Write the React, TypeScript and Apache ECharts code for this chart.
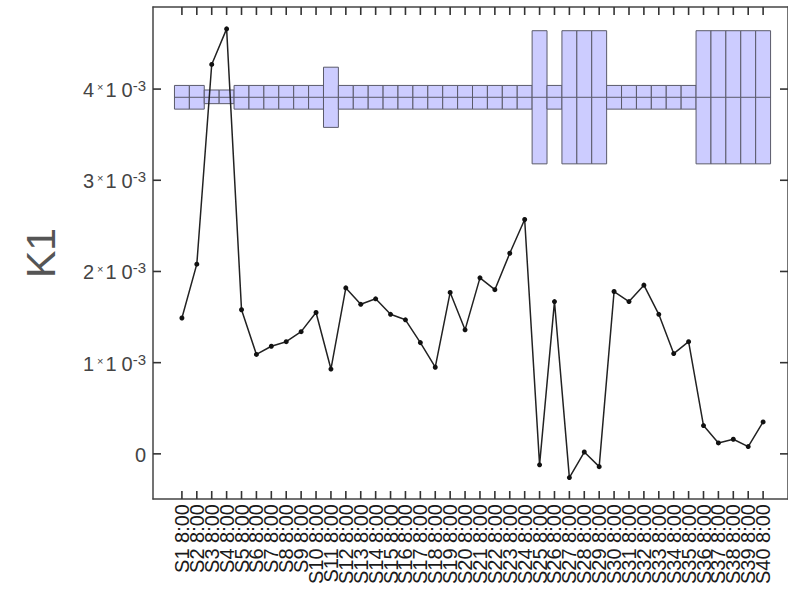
import React, { useEffect, useRef } from "react";
import * as echarts from "echarts";

// Sample labels (x axis)
const categories = [
  "S1 8:00", "S2 8:00", "S3 8:00", "S4 8:00", "S5 8:00", "S6 8:00", "S7 8:00", "S8 8:00",
  "S9 8:00", "S10 8:00", "S11 8:00", "S12 8:00", "S13 8:00", "S14 8:00", "S15 8:00", "S16 8:00",
  "S17 8:00", "S18 8:00", "S19 8:00", "S20 8:00", "S21 8:00", "S22 8:00", "S23 8:00", "S24 8:00",
  "S25 8:00", "S26 8:00", "S27 8:00", "S28 8:00", "S29 8:00", "S30 8:00", "S31 8:00", "S32 8:00",
  "S33 8:00", "S34 8:00", "S35 8:00", "S36 8:00", "S37 8:00", "S38 8:00", "S39 8:00", "S40 8:00",
];

// K1 values, in units of 1e-3
const k1Values = [
  1.49, 2.08, 4.27, 4.66, 1.58, 1.09, 1.18, 1.23, 1.34, 1.55,
  0.93, 1.82, 1.64, 1.70, 1.53, 1.47, 1.22, 0.95, 1.77, 1.36,
  1.93, 1.80, 2.20, 2.57, -0.12, 1.67, -0.26, 0.02, -0.14, 1.78,
  1.67, 1.85, 1.53, 1.10, 1.23, 0.31, 0.12, 0.16, 0.08, 0.35,
];

// Box glyphs along the top (units of 1e-3)
const boxLow = [
  3.78, 3.78, 3.84, 3.84, 3.78, 3.78, 3.78, 3.78, 3.78, 3.78,
  3.58, 3.78, 3.78, 3.78, 3.78, 3.78, 3.78, 3.78, 3.78, 3.78,
  3.78, 3.78, 3.78, 3.78, 3.18, 3.78, 3.18, 3.18, 3.18, 3.78,
  3.78, 3.78, 3.78, 3.78, 3.78, 3.18, 3.18, 3.18, 3.18, 3.18,
];
const boxHigh = [
  4.04, 4.04, 3.99, 3.99, 4.04, 4.04, 4.04, 4.04, 4.04, 4.04,
  4.24, 4.04, 4.04, 4.04, 4.04, 4.04, 4.04, 4.04, 4.04, 4.04,
  4.04, 4.04, 4.04, 4.04, 4.64, 4.04, 4.64, 4.64, 4.64, 4.04,
  4.04, 4.04, 4.04, 4.04, 4.04, 4.64, 4.64, 4.64, 4.64, 4.64,
];
const boxMid = 3.91;

// y ticks, units of 1e-3
const yTicks = [0, 1, 2, 3, 4];

// axis extents
const X_MIN = -1.94;
const X_MAX = 40.67;
const Y_MIN = -0.495;
const Y_MAX = 4.9;

const AXIS_COLOR = "#444444";
const FONT = "Liberation Sans, Arial, sans-serif";
const TICK_LEN = 8;
const TICK_W = 1.6;

export default function App() {
  const ref = useRef<HTMLDivElement>(null);

  useEffect(() => {
    if (!ref.current) return;
    const chart = echarts.init(ref.current, null, { renderer: "svg" });

    const lineData = k1Values.map((v, i) => [i, v]);
    const boxData = boxLow.map((lo, i) => [i, lo, boxHigh[i], boxMid]);
    const xTickData = categories.map((_, i) => [i, 0]);

    const xCommon = {
      type: "value",
      min: X_MIN,
      max: X_MAX,
      splitLine: { show: false },
      axisLine: { show: true, onZero: false, lineStyle: { color: AXIS_COLOR, width: 1.5 } },
      axisTick: { show: false },
      axisLabel: { show: false },
    };

    const yCommon = {
      type: "value",
      min: Y_MIN,
      max: Y_MAX,
      splitLine: { show: false },
      axisLine: { show: true, onZero: false, lineStyle: { color: AXIS_COLOR, width: 1.5 } },
      axisTick: { show: false },
    };

    chart.setOption({
      animation: false,
      backgroundColor: "#ffffff",
      grid: { left: 153, right: -2, top: 7, bottom: 90, containLabel: false },
      xAxis: [
        { ...xCommon, position: "bottom" },
        { ...xCommon, position: "top" },
      ],
      yAxis: [
        {
          ...yCommon,
          position: "left",
          name: "K1",
          nameLocation: "middle",
          nameRotate: 90,
          nameGap: 92,
          nameTextStyle: {
            fontSize: 41,
            fontWeight: 300,
            fontFamily: FONT,
            color: "#555",
          },
          axisLabel: {
            show: true,
            customValues: yTicks,
            showMinLabel: true,
            showMaxLabel: true,
            margin: 7,
            color: "#444",
            formatter: (v: number) =>
              v === 0 ? "{n|0}" : `{n|${v}}{x|×}{n|1}{m|0}{s|-3}`,
            rich: {
              n: { fontSize: 20, fontFamily: FONT, color: "#444", lineHeight: 22, verticalAlign: "bottom" },
              m: { fontSize: 20, fontFamily: FONT, color: "#444", lineHeight: 22, verticalAlign: "bottom", padding: [0, 0, 0, 5] },
              x: { fontSize: 11, fontFamily: FONT, color: "#444", padding: [0, 2, 4, 3] },
              s: { fontSize: 15, fontFamily: FONT, color: "#444", lineHeight: 14, verticalAlign: "top" },
            },
          },
        },
        {
          ...yCommon,
          position: "right",
          axisLabel: { show: false },
        },
      ],
      series: [
        {
          type: "custom",
          name: "xLabels",
          xAxisIndex: 0,
          yAxisIndex: 0,
          z: 6,
          silent: true,
          clip: false,
          encode: { x: 0, y: 1 },
          data: xTickData,
          renderItem: (params: any, api: any) => {
            const i = api.value(0);
            const bot = api.coord([i, Y_MIN]);
            return {
              type: "text",
              x: bot[0],
              y: bot[1] + 5,
              rotation: Math.PI / 2,
              style: {
                text: categories[i],
                fontSize: 20,
                fontFamily: FONT,
                fill: "#1a1a1a",
                align: "right",
                verticalAlign: "middle",
              },
            };
          },
        },
        {
          type: "custom",
          name: "boxes",
          xAxisIndex: 0,
          yAxisIndex: 0,
          z: 1,
          encode: { x: 0, y: [1, 2] },
          data: boxData,
          renderItem: (params: any, api: any) => {
            const i = api.value(0);
            const lo = api.coord([i, api.value(1)]);
            const hi = api.coord([i, api.value(2)]);
            const mid = api.coord([i, api.value(3)]);
            const w = api.size([1, 0])[0];
            return {
              type: "group",
              children: [
                {
                  type: "rect",
                  shape: { x: lo[0] - w / 2, y: hi[1], width: w, height: lo[1] - hi[1] },
                  style: { fill: "#ccccff", stroke: "#5a5a6a", lineWidth: 1 },
                },
                {
                  type: "line",
                  shape: { x1: lo[0] - w / 2, y1: mid[1], x2: lo[0] + w / 2, y2: mid[1] },
                  style: { stroke: "#5a5a6a", lineWidth: 1 },
                },
              ],
            };
          },
        },
        {
          type: "line",
          name: "K1",
          xAxisIndex: 0,
          yAxisIndex: 0,
          z: 3,
          data: lineData,
          symbol: "circle",
          symbolSize: 5,
          lineStyle: { color: "#222", width: 1.5 },
          itemStyle: { color: "#111" },
        },
      ],
    });

    // Frame ticks as graphic rects, positioned through the axes' own scales
    const finder = { xAxisIndex: 0, yAxisIndex: 0 };
    const ticks: any[] = [];
    categories.forEach((_, i) => {
      const top = chart.convertToPixel(finder, [i, Y_MAX]) as number[];
      const bot = chart.convertToPixel(finder, [i, Y_MIN]) as number[];
      ticks.push({
        type: "rect",
        z: 100,
        silent: true,
        shape: { x: top[0] - TICK_W / 2, y: top[1], width: TICK_W, height: TICK_LEN },
        style: { fill: "#333333" },
      });
      ticks.push({
        type: "rect",
        z: 100,
        silent: true,
        shape: { x: bot[0] - TICK_W / 2, y: bot[1] - TICK_LEN, width: TICK_W, height: TICK_LEN },
        style: { fill: "#333333" },
      });
    });
    yTicks.forEach((v) => {
      const l = chart.convertToPixel(finder, [X_MIN, v]) as number[];
      const r = chart.convertToPixel(finder, [X_MAX, v]) as number[];
      ticks.push({
        type: "rect",
        z: 100,
        silent: true,
        shape: { x: l[0], y: l[1] - TICK_W / 2, width: TICK_LEN, height: TICK_W },
        style: { fill: "#333333" },
      });
      ticks.push({
        type: "rect",
        z: 100,
        silent: true,
        shape: { x: r[0] - TICK_LEN, y: r[1] - TICK_W / 2, width: TICK_LEN, height: TICK_W },
        style: { fill: "#333333" },
      });
    });
    chart.setOption({ graphic: { elements: ticks } });

    return () => chart.dispose();
  }, []);

  return (
    <div
      ref={ref}
      style={{ position: "fixed", left: 0, top: 0, width: 788, height: 589, background: "#fff" }}
    />
  );
}
